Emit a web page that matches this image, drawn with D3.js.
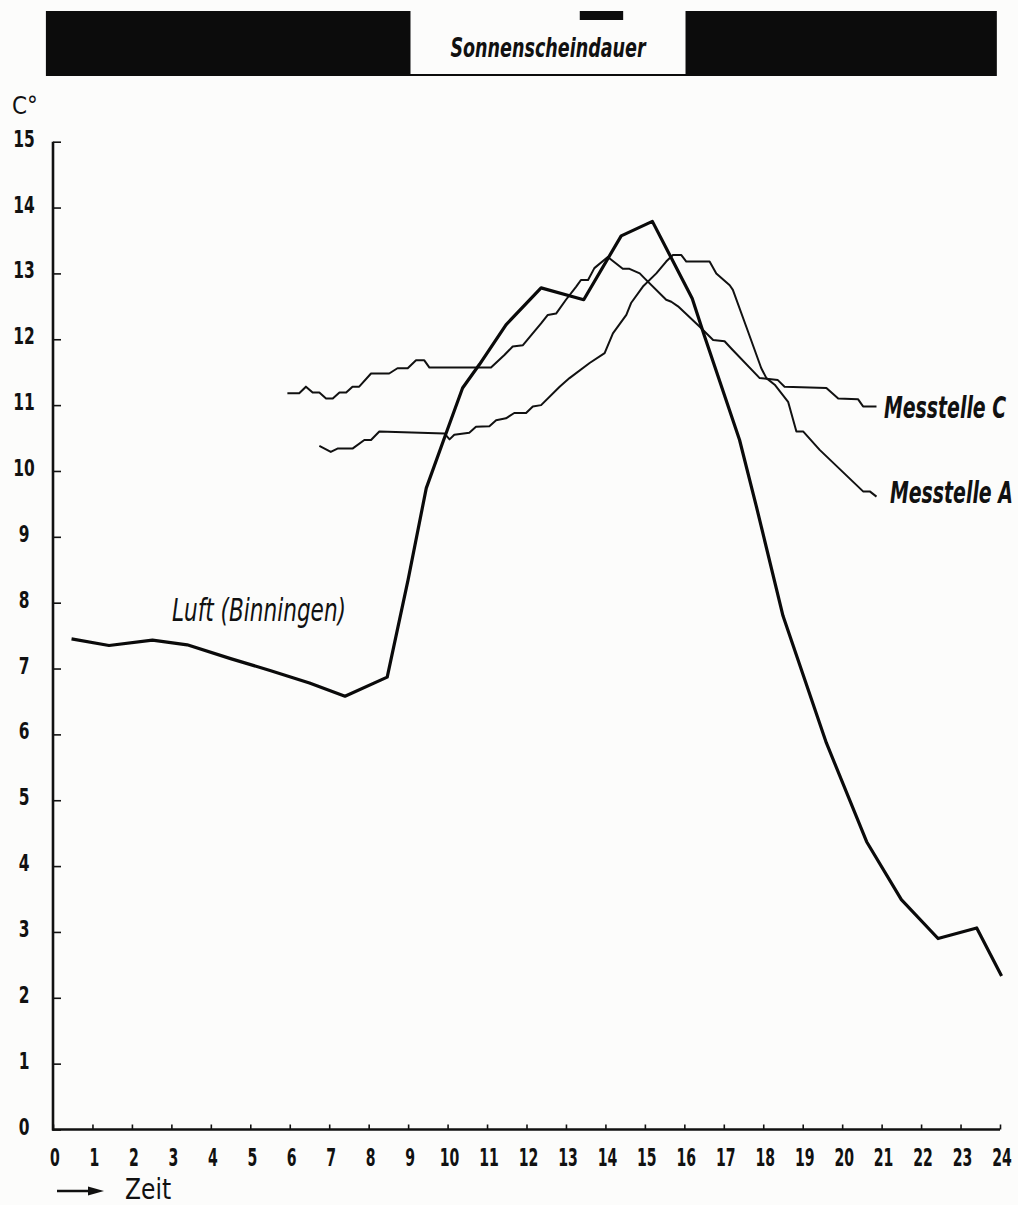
<!DOCTYPE html>
<html>
<head>
<meta charset="utf-8">
<script src="https://cdn.jsdelivr.net/npm/d3@7"></script>
<style>
  body { margin: 0; background: #fcfcfb; }
  text { fill: #111; }
</style>
</head>
<body>
<div id="chart"></div>
<script>
// tick labels
var hourTicks = d3.range(0, 25)
var tempTicks = d3.range(0, 16)

// sunshine strip (hours): full strip, white label box, small black tab
var sunStrip = [-0.18, 23.92]
var sunLabelBox = [9.06, 16.03]
var sunTab = [13.35, 14.45]

// series: [hour, °C]
var luft = [[0.47,7.45],[1.42,7.35],[2.52,7.43],[3.4,7.36],[4.5,7.15],[5.5,6.97],[6.5,6.78],[7.4,6.58],
  [8.47,6.87],[9.0,8.35],[9.46,9.74],[9.96,10.57],[10.38,11.26],[10.81,11.62],[11.48,12.22],[12.37,12.78],
  [13.45,12.6],[14.4,13.57],[15.19,13.79],[16.2,12.62],[16.51,12.05],[17.4,10.47],[17.83,9.45],[18.5,7.8],
  [19.6,5.87],[20.62,4.37],[21.5,3.49],[22.43,2.9],[23.41,3.06],[24.04,2.33]]

var messC = [[5.94,11.18],[6.24,11.18],[6.41,11.28],[6.58,11.19],[6.75,11.19],[6.92,11.10],[7.09,11.10],
  [7.26,11.19],[7.43,11.19],[7.59,11.28],[7.76,11.28],[8.06,11.48],[8.52,11.48],[8.73,11.56],[8.99,11.56],
  [9.2,11.68],[9.41,11.68],[9.54,11.57],[11.1,11.57],[11.44,11.76],[11.65,11.89],[11.91,11.91],[12.2,12.12],
  [12.37,12.24],[12.54,12.37],[12.75,12.39],[13.0,12.6],[13.26,12.8],[13.38,12.9],[13.56,12.9],[13.72,13.08],
  [14.06,13.25],[14.44,13.07],[14.61,13.07],[14.87,13.0],[15.0,12.92],[15.54,12.6],[15.67,12.57],[15.84,12.5],
  [16.39,12.19],[16.73,11.99],[17.02,11.97],[17.19,11.86],[17.91,11.41],[18.37,11.38],[18.54,11.28],
  [19.6,11.26],[19.9,11.1],[20.4,11.09],[20.53,10.98],[20.87,10.98]]

var messA = [[6.75,10.38],[7.04,10.29],[7.21,10.34],[7.59,10.34],[7.89,10.47],[8.06,10.47],[8.27,10.6],
  [9.92,10.57],[10.05,10.48],[10.17,10.55],[10.55,10.58],[10.72,10.67],[11.06,10.68],[11.23,10.77],
  [11.48,10.8],[11.69,10.88],[11.99,10.88],[12.16,10.98],[12.37,11.0],[12.84,11.28],[13.09,11.41],
  [13.6,11.64],[13.98,11.79],[14.19,12.09],[14.53,12.37],[14.65,12.55],[14.95,12.8],[15.29,13.0],
  [15.54,13.18],[15.71,13.28],[15.92,13.28],[16.05,13.18],[16.64,13.18],[16.81,13.0],[16.94,12.93],
  [17.15,12.82],[17.23,12.75],[17.57,12.19],[17.95,11.56],[18.08,11.41],[18.29,11.31],[18.63,11.05],
  [18.84,10.6],[19.01,10.6],[19.43,10.32],[20.53,9.69],[20.7,9.69],[20.87,9.61]]

var width = 1018, height = 1205
var condFont = "'DejaVu Sans Condensed', 'DejaVu Sans', sans-serif"

var svg = d3.select("#chart").append("svg")
    .attr("width", width)
    .attr("height", height)

var x = d3.scaleLinear().domain([0, 24]).range([53, 1000])
var y = d3.scaleLinear().domain([0, 15]).range([1129.5, 141.7])

// text placed at (tx, ty) and stretched by (sx, sy) to get the tall narrow lettering
function label(g, tx, ty, sx, sy, font, str, anchor) {
    return g.append("text")
        .attr("transform", "translate(" + tx + "," + ty + ") scale(" + sx + "," + sy + ")")
        .attr("text-anchor", anchor || "start")
        .style("font", font)
        .text(str)
}

// sunshine strip
svg.append("rect")
    .attr("x", x(sunStrip[0])).attr("y", 11)
    .attr("width", x(sunStrip[1]) - x(sunStrip[0])).attr("height", 65)
    .attr("fill", "#0c0c0c")
svg.append("rect")
    .attr("x", x(sunLabelBox[0])).attr("y", 11)
    .attr("width", x(sunLabelBox[1]) - x(sunLabelBox[0])).attr("height", 63)
    .attr("fill", "#fcfcfb")
svg.append("rect")
    .attr("x", x(sunTab[0])).attr("y", 11)
    .attr("width", x(sunTab[1]) - x(sunTab[0])).attr("height", 9)
    .attr("fill", "#0c0c0c")
label(svg, (x(sunLabelBox[0]) + x(sunLabelBox[1])) / 2, 57, 1, 1.35,
    "italic bold 19.5px " + condFont, "Sonnenscheindauer", "middle")

// axes
var yAxis = d3.axisRight(y).tickValues(tempTicks).tickSize(8).tickFormat("")
var xAxis = d3.axisTop(x).tickValues(hourTicks).tickSize(5).tickFormat("")

var gy = svg.append("g").attr("transform", "translate(" + x(0) + ",0)").call(yAxis)
var gx = svg.append("g").attr("transform", "translate(0," + y(0) + ")").call(xAxis)
gy.select(".domain").attr("stroke", "#111").attr("stroke-width", 2.6).attr("d", "M0," + y(15) + "V" + (y(0) + 1))
gx.select(".domain").attr("stroke", "#111").attr("stroke-width", 2.6).attr("d", "M" + (x(0) - 1) + ",0H" + x(24))
svg.selectAll(".tick line").attr("stroke", "#111").attr("stroke-width", 1.6)

// tick labels
tempTicks.forEach(function (d) {
    label(svg, 24, y(d) + 5, 0.78, 1.05, "bold 22px " + condFont, d, "middle")
})
hourTicks.forEach(function (d) {
    label(svg, x(d) + 2, 1166, 0.68, 1.1, "bold 23px " + condFont, d, "middle")
})

label(svg, 12, 114, 1, 1.05, "24px " + condFont, "C°")

// Zeit arrow
svg.append("line")
    .attr("x1", 57).attr("x2", 92).attr("y1", 1191).attr("y2", 1191)
    .attr("stroke", "#111").attr("stroke-width", 2.4)
svg.append("path")
    .attr("d", "M88,1186.5L104,1191L88,1195.5Z")
    .attr("fill", "#111")
label(svg, 125, 1199, 1, 1.1, "26px " + condFont, "Zeit")

// lines
var line = d3.line()
    .x(function (d) { return x(d[0]) })
    .y(function (d) { return y(d[1]) })

svg.append("path").datum(messC)
    .attr("fill", "none").attr("stroke", "#111").attr("stroke-width", 2)
    .attr("stroke-linejoin", "round").attr("d", line)
svg.append("path").datum(messA)
    .attr("fill", "none").attr("stroke", "#111").attr("stroke-width", 2)
    .attr("stroke-linejoin", "round").attr("d", line)
svg.append("path").datum(luft)
    .attr("fill", "none").attr("stroke", "#0a0a0a").attr("stroke-width", 3.2)
    .attr("stroke-linejoin", "round").attr("d", line)

// series labels
label(svg, 884, 418, 1, 1.4, "italic bold 21px " + condFont, "Messtelle C")
label(svg, 890, 503, 1, 1.4, "italic bold 21px " + condFont, "Messtelle A")
label(svg, 172, 621, 1, 1.3, "italic 24px " + condFont, "Luft (Binningen)")
</script>
</body>
</html>
